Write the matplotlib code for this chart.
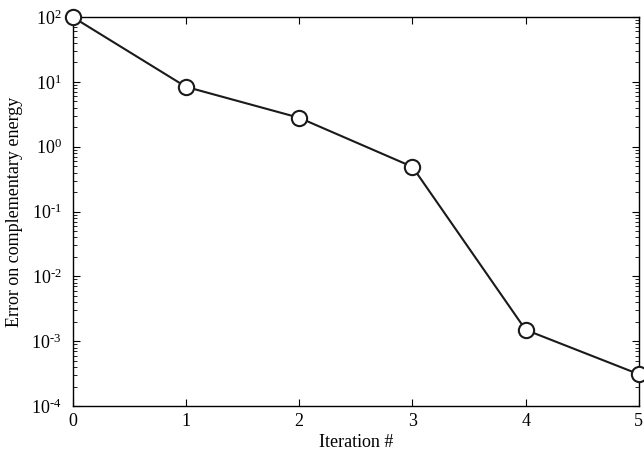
import matplotlib.pyplot as plt
from matplotlib.ticker import LogLocator, FuncFormatter
import numpy as np

plt.rcParams['font.family'] = ['Liberation Serif', 'DejaVu Serif']
plt.rcParams['mathtext.fontset'] = 'custom'
plt.rcParams['mathtext.rm'] = 'Liberation Serif'
plt.rcParams['mathtext.it'] = 'Liberation Serif:italic'

# data
iterations = [0, 1, 2, 3, 4, 5]
errors = [100, 8.4, 2.8, 0.49, 1.5e-3, 3.1e-4]

def decade_label(v, pos):
    e = int(round(np.log10(v)))
    if e < 0:
        return r'$\mathrm{10}^{\text{-}%d}$' % (-e)
    return r'$\mathrm{10}^{%d}$' % e

fig = plt.figure(figsize=(6.44, 4.62), dpi=100)
ax = fig.add_axes([0.113, 0.121, 0.879, 0.842])

ax.semilogy(iterations, errors, color='#1a1a1a', lw=1.5, marker='o',
            markersize=11, markerfacecolor='white', markeredgecolor='#1a1a1a',
            markeredgewidth=1.5, clip_on=False, zorder=3)

ax.set_xlim(0, 5)
ax.set_ylim(1e-4, 1e2)
ax.set_xticks(iterations)
ax.yaxis.set_major_locator(LogLocator(base=10, numticks=10))
ax.yaxis.set_minor_locator(LogLocator(base=10, subs=range(2, 10), numticks=10))
ax.yaxis.set_major_formatter(FuncFormatter(decade_label))
ax.tick_params(which='both', direction='in', top=True, right=True, labelsize=13)
ax.tick_params(which='major', length=5)
ax.tick_params(axis='x', which='major', pad=5)
ax.tick_params(axis='y', which='major', pad=8)
ax.tick_params(which='minor', length=3)
for s in ax.spines.values():
    s.set_linewidth(1.0)

ax.set_xlabel('Iteration #', fontsize=13, labelpad=3)
ax.set_ylabel('Error on complementary energy', fontsize=13, labelpad=6)

fig.savefig('out.png', dpi=100)
